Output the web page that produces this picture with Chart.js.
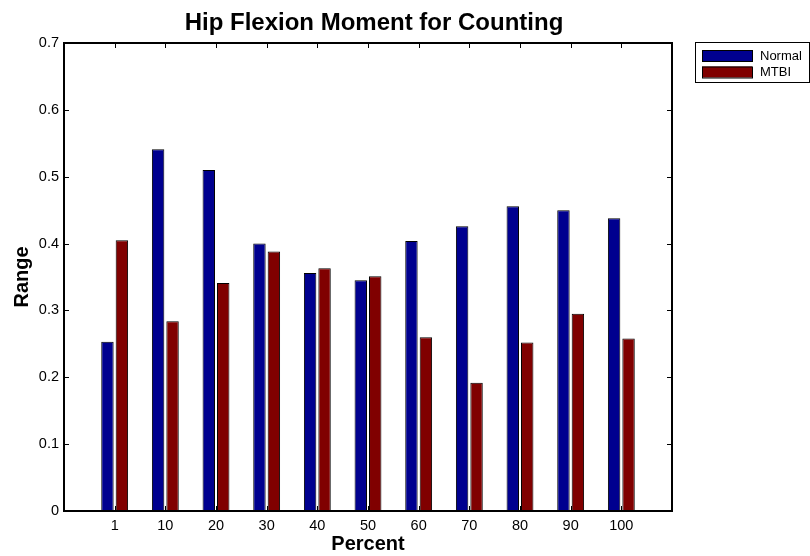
<!DOCTYPE html>
<html>
<head>
<meta charset="utf-8">
<script src="https://cdn.jsdelivr.net/npm/chart.js@4.4.0/dist/chart.umd.min.js"></script>
<style>
  body { margin: 0; background: #fff; }
  canvas { display: block; }
</style>
</head>
<body>
<canvas id="chartCadera" width="810" height="556"></canvas>
<script>
const categorias = ['1', '10', '20', '30', '40', '50', '60', '70', '80', '90', '100'];
const valoresNormal = [0.253, 0.541, 0.510, 0.400, 0.356, 0.345, 0.404, 0.426, 0.456, 0.450, 0.438];
const valoresMTBI = [0.405, 0.284, 0.341, 0.388, 0.363, 0.351, 0.260, 0.192, 0.252, 0.295, 0.258];
const ticksY = [0, 0.1, 0.2, 0.3, 0.4, 0.5, 0.6, 0.7];

const fuente = 'Arial, "Liberation Sans", sans-serif';

// empty slot on each side, like the matlab axis limits 0..12
const etiquetas = ['', ...categorias, ''];
const rellenar = (arr) => [null, ...arr, null];

const canvas = document.getElementById('chartCadera');
const ctx = canvas.getContext('2d');

// frame, inward ticks, title and legend drawn over the chart
const marcoMatlab = {
    id: 'marcoMatlab',
    afterDraw(chart) {
        const { ctx, chartArea: a, scales: { x, y } } = chart;
        ctx.save();

        ctx.strokeStyle = '#000';
        ctx.lineWidth = 1;
        ctx.beginPath();
        for (let i = 1; i <= categorias.length; i++) {
            const px = Math.round(x.getPixelForValue(i)) + 0.5;
            ctx.moveTo(px, a.top); ctx.lineTo(px, a.top + 5);
            ctx.moveTo(px, a.bottom); ctx.lineTo(px, a.bottom - 5);
        }
        ticksY.forEach(v => {
            const py = Math.round(y.getPixelForValue(v)) + 0.5;
            ctx.moveTo(a.left, py); ctx.lineTo(a.left + 5, py);
            ctx.moveTo(a.right, py); ctx.lineTo(a.right - 5, py);
        });
        ctx.stroke();

        ctx.lineWidth = 2;
        ctx.strokeRect(a.left, a.top, a.right - a.left, a.bottom - a.top);

        // title
        ctx.fillStyle = '#000';
        ctx.font = 'bold 24px ' + fuente;
        ctx.textAlign = 'center';
        ctx.textBaseline = 'middle';
        ctx.fillText('Hip Flexion Moment for Counting', 374, 23);

        // legend
        const lx = 695, ly = 42, lw = 114, lh = 40;
        ctx.fillStyle = '#fff';
        ctx.fillRect(lx, ly, lw, lh);
        ctx.lineWidth = 1;
        ctx.strokeStyle = '#000';
        ctx.strokeRect(lx + 0.5, ly + 0.5, lw, lh);
        ctx.font = '13px ' + fuente;
        ctx.textAlign = 'left';
        chart.data.datasets.forEach((ds, i) => {
            const sy = 50 + i * 16.5;
            ctx.fillStyle = ds.backgroundColor;
            ctx.fillRect(702, sy, 50, 11);
            ctx.strokeRect(702.5, sy + 0.5, 50, 11);
            ctx.fillStyle = '#000';
            ctx.fillText(ds.label, 760, sy + 6);
        });

        ctx.restore();
    }
};

const chartCadera = new Chart(ctx, {
    type: 'bar',
    data: {
        labels: etiquetas,
        datasets: [{
            label: 'Normal',
            data: rellenar(valoresNormal),
            backgroundColor: 'rgb(0, 0, 143)',
            borderColor: '#000',
            borderWidth: 1,
            categoryPercentage: 0.57,
            barPercentage: 0.86
        }, {
            label: 'MTBI',
            data: rellenar(valoresMTBI),
            backgroundColor: 'rgb(128, 0, 0)',
            borderColor: '#000',
            borderWidth: 1,
            categoryPercentage: 0.57,
            barPercentage: 0.86
        }]
    },
    options: {
        responsive: false,
        animation: false,
        layout: { padding: { top: 43, right: 138, left: 0, bottom: 0 } },
        plugins: {
            legend: { display: false },
            tooltip: { enabled: false },
            title: { display: false }
        },
        scales: {
            x: {
                type: 'category',
                offset: false,
                grid: { display: false, drawTicks: false },
                border: { display: false },
                ticks: {
                    color: '#000',
                    font: { family: fuente, size: 14.5 },
                    padding: 6,
                    autoSkip: false,
                    maxRotation: 0
                },
                title: {
                    display: true,
                    text: 'Percent',
                    color: '#000',
                    font: { family: fuente, size: 20, weight: 'bold' },
                    padding: { top: 0, bottom: 0 }
                },
                afterFit: (scale) => { scale.height = 45; }
            },
            y: {
                min: 0,
                max: 0.7,
                grid: { display: false, drawTicks: false },
                border: { display: false },
                ticks: {
                    stepSize: 0.1,
                    color: '#000',
                    font: { family: fuente, size: 14.5 },
                    padding: 5,
                    callback: (v) => String(Math.round(v * 10) / 10)
                },
                title: {
                    display: true,
                    text: 'Range',
                    color: '#000',
                    font: { family: fuente, size: 20, weight: 'bold' },
                    padding: { top: 10, bottom: 0 }
                },
                afterFit: (scale) => { scale.width = 64; }
            }
        }
    },
    plugins: [marcoMatlab]
});
</script>
</body>
</html>
